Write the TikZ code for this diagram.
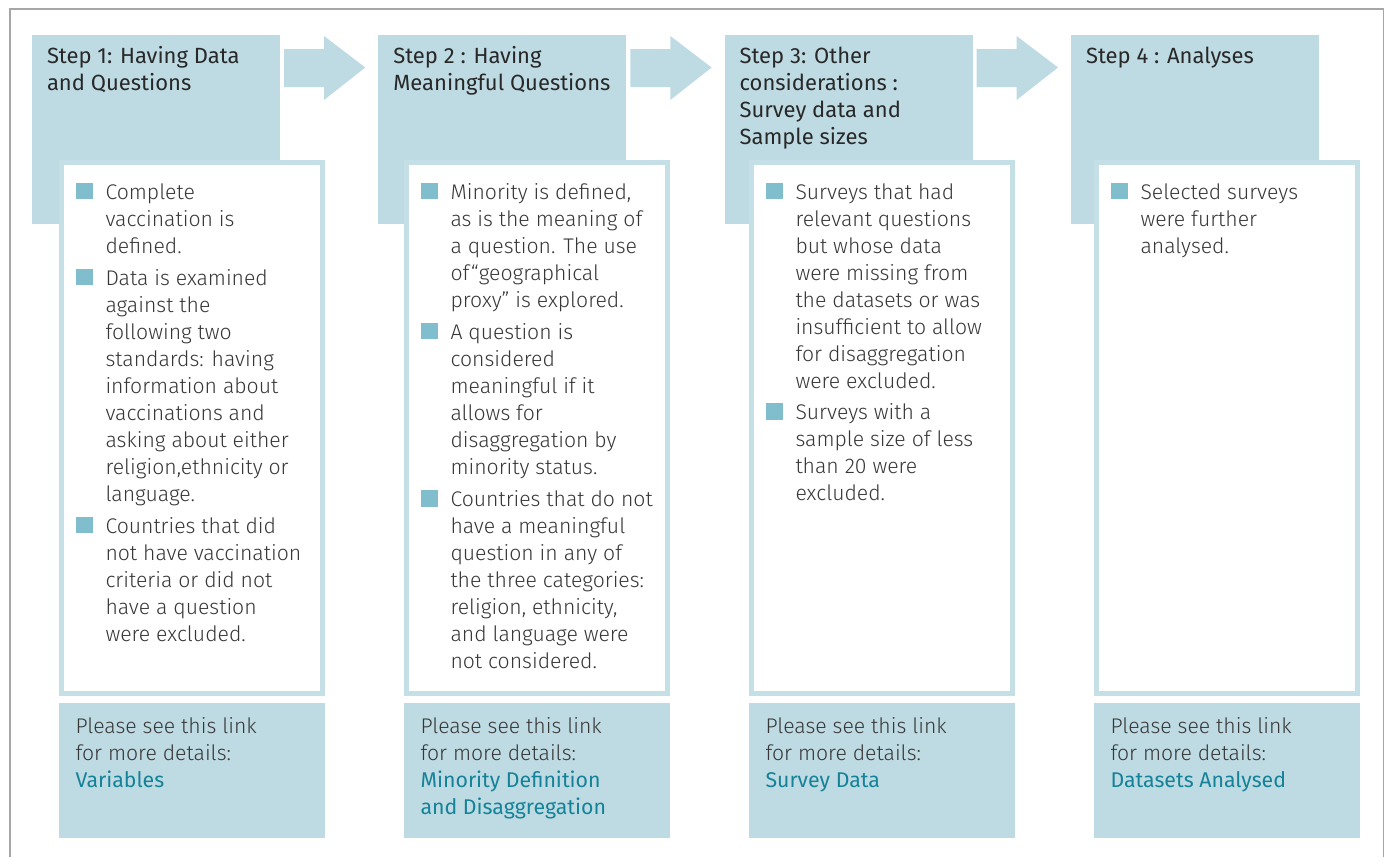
\documentclass[tikz,border=0pt]{standalone}
\usepackage{fontspec}
\usetikzlibrary{calc}
\setmainfont{Fira Sans}
\IfFontExistsTF{Fira Sans Light}
  {\newfontfamily\bodyfont{Fira Sans Light}}
  {\newfontfamily\bodyfont{Fira Sans}}
\newfontfamily\headfont{Fira Sans}

\definecolor{boxblue}{RGB}{190,219,227}
\definecolor{rimblue}{RGB}{196,223,230}
\definecolor{dotblue}{RGB}{128,189,205}
\definecolor{linkteal}{RGB}{20,130,152}
\definecolor{inkgray}{RGB}{40,40,40}
\definecolor{bodygray}{RGB}{55,55,55}
\definecolor{framegray}{RGB}{166,166,166}

\newcommand{\lines}[1]{\parbox[t]{250pt}{\raggedright #1}}
\newcommand{\linkname}[1]{{\headfont\fontsize{21.3}{27}\selectfont\color{linkteal}#1}}

\begin{document}
\begin{tikzpicture}[x=1pt,y=-1pt,
  header/.style={fill=boxblue, anchor=north west, minimum width=248pt,
    minimum height=189pt, inner sep=0pt, outer sep=0pt},
  panel/.style={draw=rimblue, line width=5pt, fill=white, anchor=north west,
    minimum width=261pt, minimum height=531pt, inner sep=0pt, outer sep=0pt},
  linkbox/.style={fill=boxblue, anchor=north west, minimum width=266pt,
    minimum height=135pt, inner sep=0pt, outer sep=0pt},
  headtext/.style={anchor=base west, inner sep=0pt, outer sep=0pt,
    font=\headfont\fontsize{22}{27}\selectfont, text=inkgray},
  bodytext/.style={anchor=base west, inner sep=0pt, outer sep=0pt,
    font=\bodyfont\fontsize{21.2}{27}\selectfont, text=bodygray},
  bullet/.style={fill=dotblue, anchor=south west, minimum size=16.5pt,
    inner sep=0pt, outer sep=0pt},
  blockarrow/.style={fill=boxblue}
]
\useasboundingbox (0,0) rectangle (1389,857);

% outer frame, open at the bottom
\draw[framegray, line width=1.5pt] (10,857) -- (10,9) -- (1383.5,9) -- (1383.5,857);

% step headers
\node[header] (h1) at (32,35) {};
\node[header] (h2) at (378.3,35) {};
\node[header] (h3) at (724.6,35) {};
\node[header] (h4) at (1071,35) {};

% block arrows between the headers
\foreach \a/\b in {h1/h2, h2/h3, h3/h4} {
  \fill[blockarrow] ($(\a.north east)+(4,14)$) -- ($(\a.north east)+(44,14)$)
    -- ($(\a.north east)+(44,1)$) -- ($(\b.north west)+(-13,32.5)$)
    -- ($(\a.north east)+(44,65)$) -- ($(\a.north east)+(44,52)$)
    -- ($(\a.north east)+(4,52)$) -- cycle;
}

% white panels with the criteria
\node[panel] (p1) at (61.5,162.5) {};
\node[panel] (p2) at (406.5,162.5) {};
\node[panel] (p3) at (751.5,162.5) {};
\node[panel] (p4) at (1096.5,162.5) {};

% link boxes
\node[linkbox] (l1) at (59,703) {};
\node[linkbox] (l2) at (404,703) {};
\node[linkbox] (l3) at (749,703) {};
\node[linkbox] (l4) at (1094,703) {};

% header titles
\node[headtext] (t1) at (47,63.5) {\lines{Step 1: Having Data\\and Questions}};
\node[headtext] (t2) at (393.3,63.5) {\lines{Step 2 : Having\\Meaningful Questions}};
\node[headtext] (t3) at (739.6,63.5) {\lines{Step 3: Other\\considerations :\\Survey data and\\Sample sizes}};
\node[headtext] (t4) at (1086,63.5) {\lines{Step 4 : Analyses}};

% step 1 items
\node[bullet] (b11) at (76,199) {};
\node[bodytext] (x11) at (105.5,199.3) {\lines{Complete\\vaccination is\\defined.}};
\node[bullet] (b12) at (76,285) {};
\node[bodytext] (x12) at (105.5,285.3) {\lines{Data is examined\\against the\\following two\\standards: having\\information about\\vaccinations and\\asking about either\\religion,ethnicity or\\language.}};
\node[bullet] (b13) at (76,533) {};
\node[bodytext] (x13) at (105.5,533.3) {\lines{Countries that did\\not have vaccination\\criteria or did not\\have a question\\were excluded.}};

% step 2 items
\node[bullet] (b21) at (421,199) {};
\node[bodytext] (x21) at (450.5,199.3) {\lines{Minority is defined,\\as is the meaning of\\a question. The use\\of“geographical\\proxy” is explored.}};
\node[bullet] (b22) at (421,339) {};
\node[bodytext] (x22) at (450.5,339.3) {\lines{A question is\\considered\\meaningful if it\\allows for\\disaggregation by\\minority status.}};
\node[bullet] (b23) at (421,506.5) {};
\node[bodytext] (x23) at (450.5,506.8) {\lines{Countries that do not\\have a meaningful\\question in any of\\the three categories:\\religion, ethnicity,\\and language were\\not considered.}};

% step 3 items
\node[bullet] (b31) at (766,199) {};
\node[bodytext] (x31) at (795.5,199.3) {\lines{Surveys that had\\relevant questions\\but whose data\\were missing from\\the datasets or was\\insufficient to allow\\for disaggregation\\were excluded.}};
\node[bullet] (b32) at (766,419.5) {};
\node[bodytext] (x32) at (795.5,419.8) {\lines{Surveys with a\\sample size of less\\than 20 were\\excluded.}};

% step 4 items
\node[bullet] (b41) at (1111,199) {};
\node[bodytext] (x41) at (1140.5,199.3) {\lines{Selected surveys\\were further\\analysed.}};

% link texts
\node[bodytext] (k1) at (75.5,733.3) {\lines{Please see this link\\for more details:\\\linkname{Variables}}};
\node[bodytext] (k2) at (420.5,733.3) {\lines{Please see this link\\for more details:\\\linkname{Minority Definition}\\\linkname{and Disaggregation}}};
\node[bodytext] (k3) at (765.5,733.3) {\lines{Please see this link\\for more details:\\\linkname{Survey Data}}};
\node[bodytext] (k4) at (1110.5,733.3) {\lines{Please see this link\\for more details:\\\linkname{Datasets Analysed}}};
\end{tikzpicture}
\end{document}
